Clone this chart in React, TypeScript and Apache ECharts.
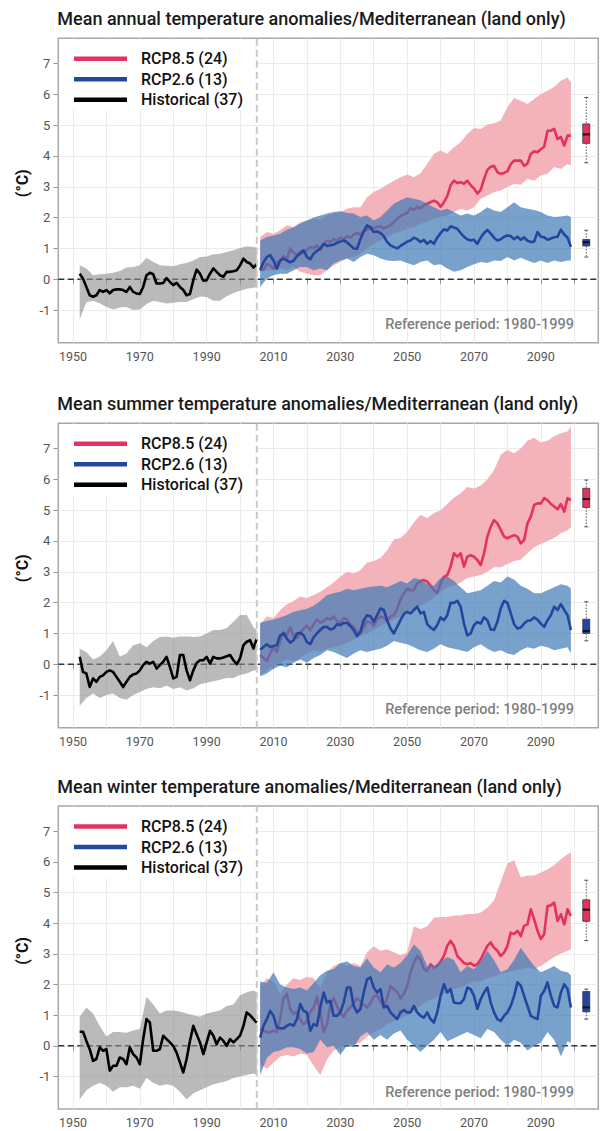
import React, { useEffect, useRef } from "react";
import * as echarts from "echarts";

// ---------- texts ----------
const PANEL_TITLES = [
  "Mean annual temperature anomalies/Mediterranean (land only)",
  "Mean summer temperature anomalies/Mediterranean (land only)",
  "Mean winter temperature anomalies/Mediterranean (land only)",
];
const NAME_RCP85 = "RCP8.5 (24)";
const NAME_RCP26 = "RCP2.6 (13)";
const NAME_HIST = "Historical (37)";
const Y_LABEL = "(°C)";
const REF_TEXT = "Reference period: 1980-1999";

// ---------- axes ----------
const X_LABELS = [1950, 1970, 1990, 2010, 2030, 2050, 2070, 2090];
const X_TICKS = [1950, 1960, 1970, 1980, 1990, 2000, 2010, 2020, 2030, 2040, 2050, 2060, 2070, 2080, 2090, 2100];
const Y_TICKS = [-1, 0, 1, 2, 3, 4, 5, 6, 7];
const X_MIN = 1945.6;
const X_MAX = 2107.2;
const Y_MIN = -2.06;
const Y_MAX = 7.82;
const REF_YEAR = 2005;
const BOX_YEAR = 2103.6;

// ---------- years ----------
const HIST_START = 1952;
const HIST_COUNT = 54;
const SCEN_START = 2006;
const SCEN_COUNT = 94;
const HIST_YEARS = Array.from({ length: HIST_COUNT }, (_, i) => HIST_START + i);
const SCEN_YEARS = Array.from({ length: SCEN_COUNT }, (_, i) => SCEN_START + i);
const HIST_BAND_YEARS = [1952, 1954, 1956, 1958, 1960, 1962, 1964, 1966, 1968, 1970, 1972, 1974, 1976, 1978, 1980, 1982, 1984, 1986, 1988, 1990, 1992, 1994, 1996, 1998, 2000, 2002, 2004, 2005];
const SCEN_BAND_YEARS = [2006, 2008, 2010, 2012, 2014, 2016, 2018, 2020, 2022, 2024, 2026, 2028, 2030, 2032, 2034, 2036, 2038, 2040, 2042, 2044, 2046, 2048, 2050, 2052, 2054, 2056, 2058, 2060, 2062, 2064, 2066, 2068, 2070, 2072, 2074, 2076, 2078, 2080, 2082, 2084, 2086, 2088, 2090, 2092, 2094, 2096, 2098, 2099];

// ---------- panel 1: annual ----------
const ANN_HIST = [0.18, 0.02, -0.25, -0.52, -0.57, -0.52, -0.35, -0.41, -0.35, -0.46,
  -0.35, -0.33, -0.33, -0.35, -0.41, -0.25, -0.41, -0.46, -0.48, -0.25,
  0.13, 0.21, 0.16, -0.14, -0.14, -0.12, 0.04, -0.09, -0.19, -0.12,
  -0.25, -0.35, -0.52, -0.48, -0.03, 0.31, 0.18, -0.05, -0.03, 0.18,
  0.35, 0.24, 0.13, 0.08, 0.24, 0.24, 0.26, 0.29, 0.45, 0.67,
  0.56, 0.51, 0.38, 0.49];
const ANN_HIST_HI = [0.45, 0.35, 0.13, 0.16, 0.18, 0.21, 0.27, 0.38, 0.40, 0.45, 0.70, 0.56, 0.45, 0.44, 0.42, 0.49, 0.53, 0.61, 0.72, 0.74, 0.81, 0.83, 0.88, 0.94, 1.01, 1.07, 1.05, 1.03];
const ANN_HIST_LO = [-1.30, -0.75, -0.70, -0.78, -0.90, -0.98, -0.92, -0.90, -1.00, -0.98, -0.80, -0.70, -0.74, -0.79, -0.76, -0.74, -0.74, -0.65, -0.56, -0.58, -0.70, -0.70, -0.55, -0.45, -0.37, -0.31, -0.28, -0.25];
const ANN_RCP85 = [0.40, 0.30, 0.50, 0.45, 0.35, 0.55, 0.60, 0.75, 0.65, 1.00,
  0.85, 0.80, 0.90, 0.85, 0.95, 1.05, 1.00, 1.10, 0.95, 1.15,
  1.25, 1.20, 1.30, 1.25, 1.35, 1.30, 1.40, 1.35, 1.45, 1.50,
  1.45, 1.55, 1.60, 1.70,
  1.65, 1.70, 1.72, 1.65, 1.70, 1.75, 1.85, 1.95, 2.05, 2.10,
  2.15, 2.30, 2.25, 2.35, 2.30, 2.40, 2.45, 2.50, 2.55, 2.50,
  2.35, 2.50, 2.70, 3.05, 3.20, 3.12, 3.15, 3.10, 3.20, 3.05,
  2.95, 2.78, 2.90, 3.25, 3.55, 3.65, 3.68, 3.48, 3.42, 3.45,
  3.50, 3.74, 3.85, 3.85, 3.85, 3.68, 3.75, 4.07, 4.15, 4.12,
  4.22, 4.30, 4.82, 4.82, 4.88, 4.55, 4.62, 4.34, 4.66, 4.66];
const ANN_RCP85_HI = [1.37, 1.53, 1.48, 1.59, 1.75, 1.69, 1.86, 1.91, 1.96, 1.93,
  2.07, 2.13, 2.18, 2.29, 2.34, 2.34, 2.66, 2.83, 2.94, 3.07,
  3.20, 3.31, 3.40, 3.31, 3.44, 3.74, 4.07, 4.18, 4.07, 4.28,
  4.45, 4.71, 4.91, 4.88, 5.02, 5.06, 5.15, 5.58, 5.88, 5.79,
  5.69, 5.85, 6.01, 6.12, 6.25, 6.44, 6.55, 6.39];
const ANN_RCP85_LO = [0.24, 0.29, 0.29, 0.35, 0.29, 0.40, 0.24, 0.18, 0.13, 0.13,
  0.29, 0.45, 0.56, 0.67, 0.72, 0.83, 0.99, 1.15, 1.26, 1.37,
  1.48, 1.53, 1.64, 1.69, 1.80, 1.86, 1.96, 2.02, 2.07, 2.18,
  2.29, 2.23, 2.34, 2.61, 2.72, 2.83, 2.88, 2.99, 3.10, 3.07,
  3.26, 3.20, 3.37, 3.42, 3.64, 3.58, 3.74, 3.69];
const ANN_RCP26 = [0.29, 0.55, 0.72, 0.78, 0.61, 0.34, 0.61, 0.67, 0.61, 0.55,
  0.60, 0.75, 0.83, 0.94, 0.72, 0.65, 0.83, 0.92, 1.00, 1.15,
  1.08, 1.10, 1.12, 1.18, 1.22, 1.26, 1.20, 1.10, 1.00, 0.99,
  1.30, 1.55, 1.75, 1.68, 1.53, 1.55, 1.50, 1.40, 1.21, 1.10,
  1.05, 1.00, 1.08, 1.15, 1.22, 1.26, 1.35, 1.30, 1.21, 1.28,
  1.15, 1.24, 1.15, 1.35, 1.50, 1.62, 1.58, 1.72, 1.68, 1.64,
  1.50, 1.38, 1.30, 1.26, 1.28, 1.15, 1.35, 1.50, 1.60, 1.48,
  1.35, 1.26, 1.30, 1.38, 1.42, 1.40, 1.30, 1.38, 1.28, 1.36,
  1.25, 1.21, 1.22, 1.53, 1.38, 1.36, 1.28, 1.32, 1.36, 1.38,
  1.61, 1.45, 1.35, 1.05];
const ANN_RCP26_HI = [1.26, 1.37, 1.42, 1.48, 1.61, 1.69, 1.80, 1.91, 2.00, 2.07,
  2.13, 2.18, 2.21, 2.15, 2.13, 2.02, 2.07, 1.91, 2.02, 2.23,
  2.45, 2.56, 2.66, 2.61, 2.56, 2.45, 2.34, 2.23, 2.29, 2.18,
  2.07, 2.13, 2.07, 2.18, 2.34, 2.23, 2.18, 2.34, 2.50, 2.34,
  2.29, 2.25, 2.18, 2.07, 2.02, 2.04, 2.07, 2.02];
const ANN_RCP26_LO = [-0.25, 0.02, 0.13, 0.18, 0.18, 0.29, 0.40, 0.40, 0.29, 0.35,
  0.29, 0.51, 0.61, 0.67, 0.56, 0.72, 0.83, 0.78, 0.67, 0.61,
  0.59, 0.61, 0.53, 0.45, 0.56, 0.61, 0.45, 0.49, 0.35, 0.24,
  0.29, 0.40, 0.49, 0.56, 0.53, 0.61, 0.59, 0.72, 0.61, 0.70,
  0.61, 0.53, 0.61, 0.53, 0.61, 0.56, 0.61, 0.61];
const ANN_BOX_RCP85 = [3.78, 4.41, 4.70, 5.04, 5.90];
const ANN_BOX_RCP26 = [0.72, 1.08, 1.20, 1.29, 1.59];

// ---------- panel 2: summer ----------
const SUM_HIST = [0.24, -0.25, -0.30, -0.74, -0.46, -0.57, -0.41, -0.36, -0.25, -0.20,
  -0.25, -0.41, -0.57, -0.74, -0.57, -0.41, -0.33, -0.30, -0.20, -0.03,
  0.08, 0.02, 0.08, -0.14, -0.03, 0.08, 0.24, -0.09, -0.46, -0.41,
  0.30, 0.30, -0.20, -0.52, -0.20, 0.04, 0.13, 0.13, 0.24, 0.02,
  0.24, 0.19, 0.19, 0.22, 0.26, 0.30, 0.13, 0.00, 0.19, 0.62,
  0.73, 0.78, 0.51, 0.83];
const SUM_HIST_HI = [0.50, 0.40, 0.15, 0.25, 0.45, 0.75, 0.25, 0.35, 0.62, 0.68, 0.55, 0.75, 0.88, 0.90, 0.86, 0.90, 0.90, 0.88, 0.90, 1.00, 1.11, 1.11, 1.18, 1.38, 1.60, 1.60, 1.20, 1.10];
const SUM_HIST_LO = [-1.35, -1.10, -0.95, -1.10, -1.00, -0.95, -1.10, -1.15, -1.00, -0.90, -0.80, -0.75, -0.78, -0.70, -0.80, -0.75, -0.85, -0.78, -0.65, -0.60, -0.55, -0.50, -0.45, -0.45, -0.35, -0.30, -0.20, -0.20];
const SUM_RCP85 = [0.30, 0.20, 0.10, 0.35, 0.55, 0.40, 0.75, 1.05, 0.95, 1.20,
  0.90, 0.85, 1.00, 1.15, 1.25, 1.10, 1.30, 1.45, 1.35, 1.40,
  1.50, 1.45, 1.55, 1.40, 1.35, 1.50, 1.45, 1.30, 1.20, 1.05,
  1.00, 1.20, 1.40, 1.35, 1.25, 1.45, 1.55, 1.50, 1.40, 1.55,
  1.60, 1.80, 2.10, 2.30, 2.45, 2.40, 2.41, 2.62, 2.70, 2.73,
  2.68, 2.55, 2.41, 2.30, 2.62, 2.84, 2.89, 3.17, 3.60, 3.49,
  3.60, 3.17, 3.49, 3.54, 3.49, 3.38, 3.22, 3.60, 4.14, 4.46,
  4.68, 4.57, 4.36, 4.14, 4.09, 4.14, 4.19, 4.14, 3.92, 4.03,
  4.57, 4.79, 5.17, 5.22, 5.22, 5.39, 5.33, 5.20, 5.12, 5.03,
  5.20, 4.95, 5.39, 5.33];
const SUM_RCP85_HI = [1.30, 1.55, 1.50, 1.75, 1.95, 2.05, 2.20, 2.15, 2.25, 2.35,
  2.50, 2.65, 2.85, 3.00, 2.95, 3.05, 3.30, 3.35, 3.45, 3.70,
  4.05, 4.10, 4.30, 4.60, 4.85, 4.75, 4.90, 5.00, 5.20, 5.40,
  5.55, 5.75, 5.70, 5.80, 6.00, 6.30, 6.80, 6.95, 6.85, 7.00,
  7.25, 7.35, 7.20, 7.25, 7.40, 7.50, 7.55, 7.72];
const SUM_RCP85_LO = [-0.35, -0.20, -0.05, 0.05, 0.15, 0.10, 0.20, 0.35, 0.45, 0.40,
  0.50, 0.55, 0.60, 0.70, 0.80, 0.90, 1.00, 1.10, 1.25, 1.35,
  1.45, 1.55, 1.70, 1.80, 1.90, 2.00, 2.15, 2.35, 2.50, 2.55,
  2.65, 2.80, 2.85, 2.90, 3.00, 3.15, 3.15, 3.25, 3.35, 3.40,
  3.60, 3.80, 3.90, 4.00, 4.10, 4.25, 4.35, 4.45];
const SUM_RCP26 = [0.47, 0.56, 0.65, 0.56, 0.59, 0.62, 0.94, 1.00, 0.83, 0.70,
  0.78, 1.00, 1.02, 0.94, 0.72, 0.65, 0.87, 1.00, 1.11, 1.21,
  1.21, 1.13, 1.16, 1.30, 1.27, 1.34, 1.34, 1.24, 1.11, 0.91,
  1.05, 1.43, 1.59, 1.56, 1.38, 1.59, 1.81, 1.76, 1.43, 1.16,
  1.00, 1.21, 1.43, 1.63, 1.70, 1.65, 1.76, 1.87, 1.65, 1.70,
  1.30, 1.19, 1.11, 1.27, 1.52, 1.43, 1.59, 1.99, 1.99, 2.06,
  1.87, 1.32, 0.94, 1.00, 1.27, 1.37, 1.32, 1.52, 1.43, 1.13,
  1.11, 1.38, 1.81, 2.06, 1.99, 1.65, 1.30, 1.16, 1.19, 1.32,
  1.41, 1.43, 1.52, 1.45, 1.32, 1.21, 1.43, 1.59, 1.87, 1.76,
  1.95, 1.76, 1.59, 1.11];
const SUM_RCP26_HI = [1.35, 1.40, 1.45, 1.52, 1.60, 1.70, 1.75, 1.80, 1.90, 2.05,
  2.25, 2.30, 2.35, 2.45, 2.40, 2.45, 2.50, 2.52, 2.55, 2.50,
  2.60, 2.70, 2.62, 2.80, 2.75, 2.60, 2.55, 2.80, 2.85, 2.70,
  2.50, 2.30, 2.35, 2.40, 2.55, 2.70, 2.65, 2.85, 2.75, 2.55,
  2.45, 2.30, 2.30, 2.40, 2.50, 2.60, 2.55, 2.45];
const SUM_RCP26_LO = [-0.40, -0.30, -0.15, -0.05, -0.10, 0.05, 0.15, 0.05, 0.20, 0.30,
  0.45, 0.40, 0.30, 0.20, 0.35, 0.45, 0.40, 0.45, 0.50, 0.60,
  0.75, 0.70, 0.65, 0.55, 0.45, 0.40, 0.50, 0.65, 0.55, 0.50,
  0.45, 0.40, 0.55, 0.65, 0.50, 0.40, 0.45, 0.35, 0.30, 0.45,
  0.55, 0.50, 0.60, 0.55, 0.45, 0.50, 0.55, 0.35];
const SUM_BOX_RCP85 = [4.46, 5.09, 5.36, 5.71, 5.98];
const SUM_BOX_RCP26 = [0.76, 1.00, 1.08, 1.46, 2.03];

// ---------- panel 3: winter ----------
const WIN_HIST = [0.46, 0.46, 0.16, -0.11, -0.49, -0.43, -0.05, -0.16, -0.11, -0.81,
  -0.65, -0.65, -0.38, -0.43, -0.60, -0.05, -0.27, -0.38, -0.60, 0.22,
  0.87, 0.76, -0.16, -0.16, -0.11, 0.33, 0.22, 0.11, 0.00, -0.22,
  -0.54, -0.87, -0.43, 0.16, 0.65, 0.38, 0.11, -0.27, 0.11, 0.49,
  0.33, 0.05, 0.27, 0.16, 0.00, 0.22, 0.11, 0.22, 0.33, 0.65,
  1.09, 1.00, 0.87, 0.76];
const WIN_HIST_HI = [0.95, 1.25, 1.05, 0.65, 0.30, 0.45, 0.45, 0.43, 0.50, 0.55, 1.60, 1.35, 1.05, 1.15, 1.15, 1.12, 1.05, 1.00, 0.95, 1.05, 1.10, 1.15, 1.30, 1.35, 1.65, 1.75, 1.80, 1.75];
const WIN_HIST_LO = [-1.75, -1.45, -1.30, -1.20, -1.30, -1.50, -1.35, -1.35, -1.30, -1.40, -1.05, -1.20, -1.30, -1.25, -1.30, -1.50, -1.75, -1.55, -1.45, -1.35, -1.25, -1.20, -1.15, -1.05, -1.00, -0.95, -0.90, -0.95];
const WIN_RCP85 = [0.55, 0.50, 0.45, 0.44, 0.50, 0.44, 0.90, 1.55, 1.70, 1.20,
  1.05, 1.10, 0.85, 0.70, 0.80, 1.10, 1.25, 1.60, 1.10, 0.45,
  0.70, 1.35, 1.55, 1.30, 1.05, 0.95, 1.15, 1.25, 1.40, 1.55,
  1.45, 1.35, 1.25, 1.40, 1.60, 1.65, 1.45, 1.30, 1.55, 1.95,
  1.85, 1.75, 1.55, 1.70, 1.95, 2.39, 2.70, 2.93, 2.82, 2.50,
  2.44, 2.66, 2.55, 2.61, 2.75, 2.93, 3.26, 3.42, 3.26, 2.93,
  2.82, 2.70, 2.66, 2.70, 2.61, 2.66, 2.82, 3.04, 3.26, 3.37,
  3.20, 3.10, 2.93, 3.04, 3.26, 3.69, 3.64, 3.75, 3.58, 3.91,
  3.96, 4.45, 4.13, 3.75, 3.48, 3.64, 4.56, 4.58, 4.67, 4.07,
  4.29, 3.96, 4.45, 4.24];
const WIN_RCP85_HI = [1.95, 2.20, 2.10, 1.70, 2.00, 2.20, 2.15, 2.25, 2.20, 1.90,
  2.40, 2.60, 2.70, 2.60, 2.70, 2.60, 3.05, 3.25, 3.10, 3.15,
  3.05, 2.95, 3.05, 3.90, 3.80, 3.90, 4.18, 4.20, 4.20, 4.25,
  4.25, 4.30, 4.30, 4.35, 4.50, 4.75, 5.35, 5.95, 6.05, 5.50,
  5.55, 5.55, 5.65, 5.75, 5.90, 6.08, 6.25, 6.30];
const WIN_RCP85_LO = [-0.60, -0.75, -0.55, -0.35, -0.30, -0.35, -0.25, -0.30, -0.65, -0.95,
  -0.45, -0.15, -0.05, 0.05, 0.05, 0.10, 0.30, 0.45, 0.55, 0.70,
  0.80, 0.90, 1.00, 1.15, 1.30, 1.45, 1.55, 1.65, 1.75, 1.85,
  1.90, 2.00, 2.10, 2.10, 2.20, 2.25, 2.35, 2.40, 2.45, 2.50,
  2.55, 2.50, 2.60, 2.75, 2.90, 3.00, 3.10, 3.15];
const WIN_RCP26 = [0.27, 0.65, 0.87, 1.14, 0.98, 0.60, 0.57, 0.57, 0.65, 0.71,
  0.65, 0.87, 1.36, 1.14, 1.09, 0.49, 0.71, 0.65, 1.25, 1.74,
  1.41, 1.47, 0.98, 0.98, 1.09, 1.41, 1.90, 1.90, 1.30, 1.09,
  1.20, 1.74, 2.17, 2.23, 1.90, 1.74, 1.85, 1.25, 1.30, 1.09,
  0.98, 0.87, 1.09, 1.17, 1.09, 1.09, 1.30, 1.09, 0.98, 0.92,
  1.09, 0.87, 0.76, 1.09, 1.63, 2.01, 1.74, 1.85, 1.41, 1.39,
  1.39, 1.52, 1.90, 1.85, 1.63, 1.20, 1.52, 1.74, 1.90, 1.41,
  1.09, 0.87, 0.81, 0.98, 1.09, 1.30, 1.63, 2.07, 1.96, 1.63,
  1.30, 0.98, 0.92, 0.87, 1.63, 1.79, 2.07, 1.63, 1.30, 1.25,
  1.74, 2.01, 1.85, 1.25];
const WIN_RCP26_HI = [2.10, 2.05, 2.40, 2.00, 1.90, 1.85, 1.90, 1.80, 2.05, 2.30,
  2.45, 2.50, 2.70, 2.75, 2.60, 2.55, 2.85, 2.55, 2.40, 2.65,
  2.55, 2.70, 2.95, 3.30, 3.10, 2.60, 2.60, 2.75, 2.90, 2.80,
  2.40, 2.60, 2.50, 2.75, 3.10, 2.80, 2.40, 2.50, 2.80, 3.20,
  2.90, 2.60, 2.40, 2.50, 2.60, 2.45, 2.40, 2.30];
const WIN_RCP26_LO = [-0.95, -0.40, -0.20, -0.15, -0.05, -0.05, -0.10, -0.25, -0.20, 0.20,
  -0.05, 0.00, -0.30, 0.00, -0.05, 0.30, 0.45, 0.20, 0.35, 0.20,
  0.40, 0.50, 0.20, 0.00, -0.20, 0.00, 0.20, 0.45, 0.15, 0.25,
  0.35, 0.45, 0.35, 0.25, 0.55, 0.45, 0.20, 0.00, 0.20, 0.10,
  -0.15, 0.00, 0.10, 0.45, 0.20, -0.35, 0.15, 0.10];
const WIN_BOX_RCP85 = [3.43, 4.06, 4.44, 4.76, 5.40];
const WIN_BOX_RCP26 = [0.87, 1.11, 1.25, 1.77, 1.85];

// ---------- table built from the arrays ----------
const PANELS = [
  { hist: ANN_HIST, histHi: ANN_HIST_HI, histLo: ANN_HIST_LO, r85: ANN_RCP85, r85Hi: ANN_RCP85_HI, r85Lo: ANN_RCP85_LO, r26: ANN_RCP26, r26Hi: ANN_RCP26_HI, r26Lo: ANN_RCP26_LO, box85: ANN_BOX_RCP85, box26: ANN_BOX_RCP26 },
  { hist: SUM_HIST, histHi: SUM_HIST_HI, histLo: SUM_HIST_LO, r85: SUM_RCP85, r85Hi: SUM_RCP85_HI, r85Lo: SUM_RCP85_LO, r26: SUM_RCP26, r26Hi: SUM_RCP26_HI, r26Lo: SUM_RCP26_LO, box85: SUM_BOX_RCP85, box26: SUM_BOX_RCP26 },
  { hist: WIN_HIST, histHi: WIN_HIST_HI, histLo: WIN_HIST_LO, r85: WIN_RCP85, r85Hi: WIN_RCP85_HI, r85Lo: WIN_RCP85_LO, r26: WIN_RCP26, r26Hi: WIN_RCP26_HI, r26Lo: WIN_RCP26_LO, box85: WIN_BOX_RCP85, box26: WIN_BOX_RCP26 },
];

// ---------- layout & style ----------
const FONT = 'Roboto, "Noto Sans", sans-serif';
const PANEL_TOPS = [38.3, 423.3, 806];
const PANEL_HEIGHTS = [304.4, 304.4, 303];
const GRID_LEFT = 58.3;
const GRID_WIDTH = 540;
const RED = "#E4325E";
const BLUE = "#24469E";
const PINK_BAND = "#F4B2BA";
const BLUE_BAND = "rgba(62,123,182,0.7)";
const GREY_BAND = "rgba(140,140,140,0.6)";

const zip = (xs: number[], ys: number[]) => xs.map((x, i) => [x, ys[i]]);

function bandSeries(years: number[], lo: number[], hi: number[], fill: string, gi: number, z: number) {
  return {
    type: "custom",
    xAxisIndex: gi,
    yAxisIndex: gi,
    z,
    silent: true,
    data: years.map((y, i) => [y, lo[i], hi[i]]),
    encode: { x: 0, y: [1, 2] },
    renderItem: (params: any, api: any) => {
      if (params.dataIndex !== 0) return null;
      const top = years.map((y, i) => api.coord([y, hi[i]]));
      const bot = years.map((y, i) => api.coord([y, lo[i]])).reverse();
      return { type: "polygon", shape: { points: top.concat(bot) }, style: { fill, stroke: null } };
    },
  };
}

function boxSeries(box85: number[], box26: number[], gi: number, z: number) {
  return {
    type: "custom",
    xAxisIndex: gi,
    yAxisIndex: gi,
    z,
    silent: true,
    data: [
      [BOX_YEAR, ...box85, 0],
      [BOX_YEAR, ...box26, 1],
    ],
    encode: { x: 0, y: [1, 2, 3, 4, 5] },
    renderItem: (params: any, api: any) => {
      const x = api.value(0);
      const pMin = api.coord([x, api.value(1)]);
      const pQ1 = api.coord([x, api.value(2)]);
      const pMed = api.coord([x, api.value(3)]);
      const pQ3 = api.coord([x, api.value(4)]);
      const pMax = api.coord([x, api.value(5)]);
      const fill = api.value(6) === 0 ? RED : BLUE;
      const cx = pMed[0];
      const w = 7;
      const whisk = { stroke: "#555", lineWidth: 1, lineDash: [1.5, 1.5] };
      const cap = { stroke: "#555", lineWidth: 1 };
      return {
        type: "group",
        children: [
          { type: "line", shape: { x1: cx, y1: pMax[1], x2: cx, y2: pQ3[1] }, style: whisk },
          { type: "line", shape: { x1: cx, y1: pQ1[1], x2: cx, y2: pMin[1] }, style: whisk },
          { type: "line", shape: { x1: cx - 2, y1: pMax[1], x2: cx + 2, y2: pMax[1] }, style: cap },
          { type: "line", shape: { x1: cx - 2, y1: pMin[1], x2: cx + 2, y2: pMin[1] }, style: cap },
          { type: "rect", shape: { x: cx - w / 2, y: pQ3[1], width: w, height: pQ1[1] - pQ3[1] }, style: { fill, stroke: "#333", lineWidth: 0.8 } },
          { type: "line", shape: { x1: cx - w / 2, y1: pMed[1], x2: cx + w / 2, y2: pMed[1] }, style: { stroke: "#111", lineWidth: 2 } },
        ],
      };
    },
  };
}

function lineSeries(name: string, data: number[][], color: string, gi: number, z: number) {
  return {
    type: "line",
    name,
    color,
    xAxisIndex: gi,
    yAxisIndex: gi,
    z,
    data,
    showSymbol: false,
    symbol: "none",
    silent: true,
    lineStyle: { color, width: 2.6, join: "round" },
  };
}

function buildOption() {
  const grid: any[] = [];
  const xAxis: any[] = [];
  const yAxis: any[] = [];
  const title: any[] = [];
  const legend: any[] = [];
  const series: any[] = [];
  const graphic: any[] = [];

  PANELS.forEach((p, gi) => {
    const T = PANEL_TOPS[gi];
    grid.push({ left: GRID_LEFT, top: T, width: GRID_WIDTH, height: PANEL_HEIGHTS[gi], show: true, borderColor: "#a8a8a8", borderWidth: 1.5, backgroundColor: "transparent" });
    xAxis.push({
      type: "value", gridIndex: gi, min: X_MIN, max: X_MAX,
      axisLine: { show: false },
      axisTick: { show: true, length: 5, lineStyle: { color: "#999", width: 1 }, customValues: X_TICKS },
      axisLabel: { customValues: X_LABELS, formatter: (v: number) => String(v), color: "#555", fontSize: 12.5, fontFamily: FONT, margin: 7 },
      splitLine: { show: true, lineStyle: { color: "#ebebeb", width: 1 } },
    });
    yAxis.push({
      type: "value", gridIndex: gi, min: Y_MIN, max: Y_MAX,
      axisLine: { show: false },
      axisTick: { show: true, length: 5, lineStyle: { color: "#999", width: 1 }, customValues: Y_TICKS },
      axisLabel: { customValues: Y_TICKS, formatter: (v: number) => String(v), color: "#555", fontSize: 13, fontFamily: FONT, margin: 8 },
      splitLine: { show: true, lineStyle: { color: "#ebebeb", width: 1 } },
    });
    title.push({
      text: PANEL_TITLES[gi], left: GRID_LEFT - 1, top: T - 31, padding: 0,
      textStyle: { fontFamily: FONT, fontSize: 18, fontWeight: 500, color: "#1a1a1a", lineHeight: 22 },
    });
    legend.push({
      data: [NAME_RCP85, NAME_RCP26, NAME_HIST], orient: "vertical", left: 74, top: T + 12, padding: 0,
      itemGap: 3.5, itemWidth: 53, itemHeight: 4.5, icon: "rect", selectedMode: false, z: 20,
      textStyle: { fontFamily: FONT, fontSize: 16, fontWeight: 500, color: "#111", lineHeight: 17, padding: [0, 0, 0, 9] },
    });
    graphic.push({ type: "rect", z: 1, silent: true, shape: { x: GRID_LEFT + 1, y: T + 1, width: 197, height: 71 }, style: { fill: "#fff" } });
    graphic.push({ type: "text", z: 30, silent: true, x: 574, y: T + 286, style: { text: REF_TEXT, align: "right", verticalAlign: "middle", fontFamily: FONT, fontSize: 14.5, fontWeight: 500, fill: "#808080" } });
    graphic.push({ type: "text", z: 30, silent: true, x: 22, y: T + 145, rotation: Math.PI / 2, style: { text: Y_LABEL, align: "center", verticalAlign: "middle", fontFamily: FONT, fontSize: 16, fontWeight: "bold", fill: "#111" } });

    series.push({
      type: "line", name: "zero-line", xAxisIndex: gi, yAxisIndex: gi, z: 2, data: [[X_MIN, 0], [X_MAX, 0]], showSymbol: false, symbol: "none", silent: true,
      lineStyle: { color: "#333", width: 1.5, type: [6, 3.5] },
    });
    series.push(bandSeries(HIST_BAND_YEARS, p.histLo, p.histHi, GREY_BAND, gi, 3));
    series.push(lineSeries(NAME_HIST, zip(HIST_YEARS, p.hist), "#000000", gi, 4));
    series.push(bandSeries(SCEN_BAND_YEARS, p.r85Lo, p.r85Hi, PINK_BAND, gi, 5));
    series.push(lineSeries(NAME_RCP85, zip(SCEN_YEARS, p.r85), RED, gi, 6));
    series.push(bandSeries(SCEN_BAND_YEARS, p.r26Lo, p.r26Hi, BLUE_BAND, gi, 7));
    series.push(lineSeries(NAME_RCP26, zip(SCEN_YEARS, p.r26), BLUE, gi, 8));
    series.push({
      type: "line", name: "ref-year", xAxisIndex: gi, yAxisIndex: gi, z: 9, data: [[REF_YEAR, Y_MIN], [REF_YEAR, Y_MAX]], showSymbol: false, symbol: "none", silent: true,
      lineStyle: { color: "#c9c9c9", width: 2, type: [7, 4] },
    });
    series.push(boxSeries(p.box85, p.box26, gi, 10));
  });

  return { animation: false, backgroundColor: "#fff", grid, xAxis, yAxis, title, legend, series, graphic };
}

export default function App() {
  const ref = useRef<HTMLDivElement>(null);
  useEffect(() => {
    document.body.style.margin = "0";
    const chart = echarts.init(ref.current as HTMLDivElement, null, { renderer: "svg" });
    chart.setOption(buildOption() as any);
    return () => chart.dispose();
  }, []);
  return <div ref={ref} style={{ width: 600, height: 1131 }} />;
}
